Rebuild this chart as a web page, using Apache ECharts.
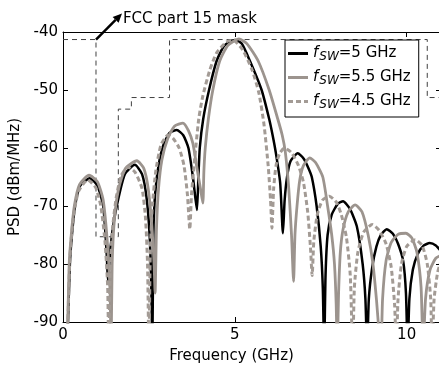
<!DOCTYPE html>
<html><head><meta charset="utf-8">
<script src="https://cdn.jsdelivr.net/npm/echarts@6.0.0/dist/echarts.min.js"></script>
<style>html,body{margin:0;padding:0;background:#fff}#c{width:439px;height:370px}</style>
</head><body><div id="c"></div>
<script>
// ---- data ----
const xTickValues = [0, 5, 10];
const yTickValues = [-90, -80, -70, -60, -50, -40];
const seriesNames = ['5 GHz', '5.5 GHz', '4.5 GHz'];

// f_SW = 5 GHz  [frequency GHz, PSD dBm/MHz]
const psd5GHz = [
  [0.12,-95],[0.2,-80],[0.26,-75],[0.35,-70],[0.5,-66.5],[0.78,-65.2],[1.0,-66.5],[1.17,-70],[1.27,-78],[1.31,-83],
  [1.37,-78],[1.47,-73],[1.6,-69],[1.8,-64.5],[2.09,-62.9],[2.3,-64.5],[2.43,-68.5],[2.52,-75],[2.57,-84],[2.6,-95],
  [2.63,-75],[2.68,-68],[2.78,-63],[2.92,-59.5],[3.1,-57.4],[3.31,-56.9],[3.5,-57.8],[3.65,-60],[3.78,-65],[3.86,-69],[3.9,-70.7],
  [3.94,-65],[3.98,-60],[4.08,-55],[4.25,-50],[4.47,-45],[4.7,-42.3],[5.0,-41.4],[5.2,-42],[5.44,-45],[5.78,-50],[6.0,-55],[6.1,-57.8],[6.19,-60.7],[6.32,-66],[6.4,-74.7],
  [6.45,-69],[6.52,-65],[6.62,-62.3],[6.83,-60.9],[7.0,-61.8],[7.13,-63.3],[7.24,-65],[7.38,-70],[7.5,-77],[7.56,-84],[7.6,-95],
  [7.64,-82],[7.7,-75],[7.82,-71.5],[8.0,-69.6],[8.15,-69.2],[8.35,-70.5],[8.55,-73.5],[8.72,-80],[8.8,-86],[8.85,-95],
  [8.9,-86],[9.0,-80.5],[9.12,-77],[9.25,-75],[9.42,-74],[9.6,-74.8],[9.75,-76.5],[9.9,-79.5],[9.98,-85],[10.03,-95],
  [10.08,-86],[10.18,-81],[10.32,-78.3],[10.5,-76.8],[10.67,-76.4],[10.85,-76.8],[11.0,-77.8]
];
// f_SW = 5.5 GHz
const psd55GHz = [
  [0.12,-95],[0.18,-80],[0.24,-75],[0.33,-70],[0.48,-66.3],[0.76,-64.7],[1.0,-65.8],[1.17,-69],[1.3,-77],[1.37,-85],[1.4,-95],
  [1.43,-80],[1.5,-72],[1.62,-67],[1.82,-63.5],[2.15,-62.2],[2.35,-63.5],[2.48,-67],[2.58,-73],[2.65,-80],[2.68,-85],
  [2.72,-74],[2.78,-67],[2.88,-62],[3.05,-58.3],[3.25,-56.2],[3.49,-55.7],[3.65,-57],[3.78,-59.2],[3.9,-63.5],[4.0,-67],[4.07,-69.5],
  [4.1,-64],[4.14,-60],[4.23,-55],[4.36,-50],[4.56,-45],[4.8,-42.3],[5.12,-41.2],[5.35,-42],[5.68,-45],[6.0,-50],[6.25,-55],[6.38,-57.8],[6.47,-60.7],[6.57,-67],[6.65,-75],[6.71,-83],
  [6.75,-75],[6.81,-70],[6.89,-65.5],[7.0,-63],[7.18,-61.7],[7.35,-62.5],[7.56,-65],[7.7,-70],[7.82,-75],[7.9,-80],[7.95,-87],[7.98,-95],
  [8.02,-85],[8.07,-78],[8.15,-74],[8.3,-71],[8.5,-69.8],[8.7,-71],[8.88,-75],[9.02,-80],[9.12,-86],[9.25,-95],
  [9.3,-86],[9.4,-79.5],[9.55,-76.3],[9.75,-74.9],[9.98,-74.7],[10.15,-75.5],[10.3,-78],[10.42,-84],[10.48,-95],
  [10.55,-86],[10.68,-81],[10.85,-79],[11.0,-78.5]
];
// f_SW = 4.5 GHz
const psd45GHz = [
  [0.12,-95],[0.2,-79],[0.3,-72],[0.45,-67.5],[0.72,-65.5],[0.95,-66.8],[1.1,-70],[1.22,-76],[1.3,-84],[1.33,-95],
  [1.37,-82],[1.44,-74],[1.55,-68.5],[1.7,-64.7],[1.9,-63.3],[2.1,-64.2],[2.3,-67],[2.4,-72],[2.46,-80],[2.5,-95],
  [2.54,-78],[2.6,-70],[2.7,-64],[2.85,-59.5],[3.05,-57.8],[3.2,-58.3],[3.38,-60],[3.52,-63],[3.62,-68],[3.69,-74],
  [3.74,-68],[3.82,-62.6],[3.95,-55],[4.07,-51],[4.27,-46.6],[4.47,-43.6],[4.76,-41.7],[4.95,-41.4],[5.23,-43.1],[5.5,-46.5],[5.7,-50.5],[5.85,-56],[5.97,-63],[6.04,-69],[6.08,-73.8],
  [6.13,-67],[6.2,-63],[6.3,-61],[6.45,-60],[6.65,-60.8],[6.85,-63],[7.0,-66],[7.12,-71],[7.2,-77],[7.25,-82],
  [7.3,-76],[7.4,-71.5],[7.55,-69],[7.75,-68.3],[7.95,-69.3],[8.1,-71.5],[8.25,-75.5],[8.36,-82],[8.43,-95],
  [8.48,-84],[8.58,-78],[8.75,-74.5],[9.0,-73.2],[9.2,-74.2],[9.4,-76.5],[9.55,-80.5],[9.65,-87],[9.7,-95],
  [9.75,-86],[9.85,-80],[10.0,-77],[10.25,-75.8],[10.45,-76.8],[10.6,-80],[10.7,-86],[10.74,-95],
  [10.8,-86],[10.9,-81.5],[11.0,-79.5]
];
// FCC part 15 indoor mask
const maskFreq  = [0, 0.96, 0.96, 1.61, 1.61, 1.99, 1.99, 3.1, 3.1, 10.6, 10.6, 11];
const maskLevel = [-41.3, -41.3, -75.3, -75.3, -53.3, -53.3, -51.3, -51.3, -41.3, -41.3, -51.3, -51.3];

// ---- chart ----
const FONT = 'DejaVu Sans';
const maskData = maskFreq.map((f, i) => [f, maskLevel[i]]);
const chart = echarts.init(document.getElementById('c'), null, {renderer: 'canvas'});
const axisCommon = {
  axisLine: {show: true, onZero: false, lineStyle: {color: '#000', width: 1}},
  axisTick: {show: true, inside: true, length: 5, lineStyle: {color: '#000', width: 1}},
  splitLine: {show: false}
};
const labelStyle = {color: '#000', fontFamily: FONT, fontSize: 15};
const legendLabel = {
  '5 GHz': '{i|f}{s|SW}{n|=5 GHz}',
  '5.5 GHz': '{i|f}{s|SW}{n|=5.5 GHz}',
  '4.5 GHz': '{i|f}{s|SW}{n|=4.5 GHz}'
};
const solidIcon = 'path://M0,0h20v3h-20z';
const dashIcon = 'path://M0,0h5v3h-5zM8,0h5v3h-5zM16,0h4v3h-4z';
const option = {
  animation: false,
  backgroundColor: '#fff',
  grid: {left: 63, right: -2, top: 32, bottom: 48, outerBoundsMode: 'none', containLabel: false},
  xAxis: [
    Object.assign({}, axisCommon, {
      type: 'value', min: 0, max: 11, interval: 5, position: 'bottom',
      name: 'Frequency (GHz)', nameLocation: 'middle', nameGap: 27,
      nameTextStyle: {color: '#000', fontFamily: FONT, fontSize: 15, padding: [0, 41, 0, 0]},
      axisLabel: Object.assign({}, labelStyle, {margin: 6, showMaxLabel: false,
        formatter: v => xTickValues.includes(v) ? String(v) : ''})
    }),
    Object.assign({}, axisCommon, {
      type: 'value', min: 0, max: 11, interval: 5, position: 'top', axisLabel: {show: false}
    })
  ],
  yAxis: [
    Object.assign({}, axisCommon, {
      type: 'value', min: -90, max: -40, interval: 10, position: 'left',
      name: 'PSD (dBm/MHz)', nameLocation: 'middle', nameGap: 40, nameRotate: 90,
      nameTextStyle: {color: '#000', fontFamily: FONT, fontSize: 15},
      axisLabel: Object.assign({}, labelStyle, {margin: 5,
        formatter: v => yTickValues.includes(v) ? String(v) : ''})
    }),
    Object.assign({}, axisCommon, {
      type: 'value', min: -90, max: -40, interval: 10, position: 'right', axisLabel: {show: false}
    })
  ],
  legend: {
    show: true, orient: 'vertical', left: 285, top: 40,
    data: [
      {name: seriesNames[0], icon: solidIcon},
      {name: seriesNames[1], icon: solidIcon},
      {name: seriesNames[2], icon: dashIcon}
    ],
    backgroundColor: '#fff', borderColor: '#000', borderWidth: 1, borderRadius: 0,
    padding: [6, 8, 6, 3], itemGap: 7, itemWidth: 20, itemHeight: 3,
    formatter: name => legendLabel[name],
    textStyle: {
      color: '#000', fontFamily: FONT, fontSize: 15,
      rich: {
        i: {fontStyle: 'italic', fontFamily: FONT, fontSize: 15, color: '#000'},
        s: {fontStyle: 'italic', fontFamily: FONT, fontSize: 12, color: '#000', padding: [7, 0, 0, 1]},
        n: {fontFamily: FONT, fontSize: 15, color: '#000'}
      }
    }
  },
  series: [
    {name: 'mask', type: 'line', data: maskData, symbol: 'none', silent: true,
     lineStyle: {color: '#404040', width: 1, type: [5, 4]}, z: 1},
    {name: '5 GHz', type: 'line', data: psd5GHz, symbol: 'none', smooth: 0.2, clip: true,
     color: '#000', itemStyle: {color: '#000'}, lineStyle: {color: '#000', width: 2.5}, z: 3},
    {name: '5.5 GHz', type: 'line', data: psd55GHz, symbol: 'none', smooth: 0.2, clip: true,
     color: '#9c948e', itemStyle: {color: '#9c948e'}, lineStyle: {color: '#9c948e', width: 2.8}, z: 4},
    {name: '4.5 GHz', type: 'line', data: psd45GHz, symbol: 'none', smooth: 0.2, clip: true,
     color: '#a39b95', itemStyle: {color: '#a39b95'}, lineStyle: {color: '#a39b95', width: 3, type: [5, 3]}, z: 5}
  ]
};
chart.setOption(option);

// annotation arrow anchored to the mask corner
const p0 = chart.convertToPixel({xAxisIndex: 0, yAxisIndex: 0}, [maskFreq[1], maskLevel[1]]);
const tip = [p0[0] + 26, p0[1] - 26];
const dx = tip[0] - p0[0], dy = tip[1] - p0[1], L = Math.hypot(dx, dy);
const ux = dx / L, uy = dy / L, hl = 9, hw = 4.2;
const base = [tip[0] - ux * hl, tip[1] - uy * hl];
chart.setOption({
  graphic: [
    {type: 'line', shape: {x1: p0[0], y1: p0[1], x2: base[0], y2: base[1]},
     style: {stroke: '#000', lineWidth: 2.5}, z: 100},
    {type: 'polygon', shape: {points: [tip, [base[0] - uy * hw, base[1] + ux * hw], [base[0] + uy * hw, base[1] - ux * hw]]},
     style: {fill: '#000'}, z: 100},
    {type: 'text', x: tip[0] + 1, y: 19,
     style: {text: 'FCC part 15 mask', fill: '#000', font: '15px "DejaVu Sans"', textAlign: 'left', textVerticalAlign: 'middle'}, z: 100}
  ]
});
</script></body></html>
